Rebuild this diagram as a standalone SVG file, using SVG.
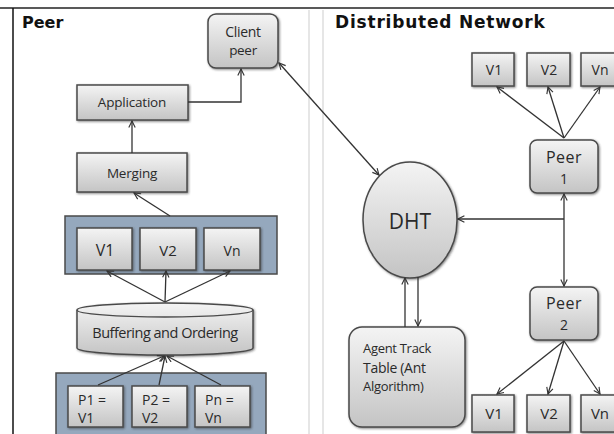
<svg xmlns="http://www.w3.org/2000/svg" width="614" height="434" viewBox="0 0 614 434">
<defs>
<linearGradient id="g" x1="0" y1="0" x2="0" y2="1">
<stop offset="0" stop-color="#f4f4f4"/>
<stop offset="1" stop-color="#c4c4c4"/>
</linearGradient>
<filter id="sh" x="-10%" y="-10%" width="130%" height="130%">
<feDropShadow dx="1" dy="1" stdDeviation="0.8" flood-color="#333" flood-opacity="0.6"/>
</filter>
<marker id="a" viewBox="0 0 10 10" refX="9" refY="5" markerWidth="8" markerHeight="8" orient="auto-start-reverse" markerUnits="userSpaceOnUse">
<path d="M1,1 L9,5 L1,9" fill="none" stroke="#333" stroke-width="1.4"/>
</marker>
</defs>
<style>
.box{fill:url(#g);stroke:#4a4a4a;stroke-width:1.5;filter:url(#sh)}
.panel{fill:#95a8bd;stroke:#4a4a4a;stroke-width:1.5}
.t{font-family:"Open Sans","Liberation Sans",sans-serif;fill:#2a2a2a;text-anchor:middle}
.s{font-family:"Open Sans","Liberation Sans",sans-serif;fill:#2a2a2a;text-anchor:start}
.title{font-family:"DejaVu Sans",sans-serif;font-weight:bold;fill:#111}
.c{fill:none;stroke:#333;stroke-width:1.3}
</style>
<rect width="614" height="434" fill="#fff"/>
<g id="frame">
<line x1="0" y1="8" x2="614" y2="8" stroke="#222" stroke-width="1.5"/>
<line x1="13" y1="8" x2="13" y2="434" stroke="#111" stroke-width="1.5"/>
<line x1="309" y1="10" x2="309" y2="434" stroke="#e6e6e6" stroke-width="2"/>
<line x1="323" y1="10" x2="323" y2="434" stroke="#e6e6e6" stroke-width="2"/>
<text class="title" x="22" y="28" font-size="16">Peer</text>
<text class="title" x="335" y="28" font-size="17" letter-spacing="0.8">Distributed Network</text>
</g>
<g id="client-peer"><rect class="box" x="208" y="14" width="70" height="54" rx="8"/><text class="t" x="243" y="37" font-size="14" letter-spacing="-0.3">Client</text><text class="t" x="243" y="55" font-size="13.5" letter-spacing="-0.3">peer</text></g>
<g id="application"><rect class="box" x="77" y="85" width="111" height="35"/><text class="t" x="132" y="107" font-size="13.5" letter-spacing="-0.2">Application</text></g>
<g id="merging"><rect class="box" x="77" y="153" width="110" height="39"/><text class="t" x="132" y="178" font-size="13.5" letter-spacing="-0.2">Merging</text></g>
<g id="v-panel"><rect class="panel" x="65" y="216" width="212" height="58"/></g>
<g id="v1"><rect class="box" x="77" y="228" width="55" height="42"/><text class="t" x="105" y="256" font-size="16">V1</text></g>
<g id="v2"><rect class="box" x="140" y="228" width="56" height="42"/><text class="t" x="168" y="256" font-size="15">V2</text></g>
<g id="vn"><rect class="box" x="204" y="228" width="56" height="42"/><text class="t" x="232" y="256" font-size="14">Vn</text></g>
<g id="buffering">
<path class="box" d="M77,310 A88,7 0 0 1 253,310 L253,348 A88,7 0 0 1 77,348 Z"/>
<path d="M77,310 A88,7 0 0 0 253,310" fill="none" stroke="#4a4a4a" stroke-width="1.3"/>
<text class="t" x="165" y="338" font-size="14.5" letter-spacing="-0.5">Buffering and Ordering</text>
</g>
<g id="p-panel"><rect class="panel" x="56" y="373" width="210" height="64"/></g>
<g id="p1"><rect class="box" x="68" y="386" width="55" height="41"/><text class="s" x="78" y="405" font-size="14">P1 =</text><text class="s" x="78" y="423" font-size="14">V1</text></g>
<g id="p2"><rect class="box" x="132" y="386" width="55" height="41"/><text class="s" x="142" y="405" font-size="14">P2 =</text><text class="s" x="142" y="423" font-size="14">V2</text></g>
<g id="pn"><rect class="box" x="195" y="386" width="55" height="41"/><text class="s" x="205" y="405" font-size="14">Pn =</text><text class="s" x="205" y="423" font-size="14">Vn</text></g>
<g id="dht"><ellipse class="box" cx="410" cy="220" rx="47" ry="58"/><text class="t" x="410" y="229" font-size="21">DHT</text></g>
<g id="agent"><rect class="box" x="349" y="327" width="116" height="100" rx="13"/><text class="s" x="363" y="353" font-size="13" letter-spacing="-0.3">Agent Track</text><text class="s" x="363" y="373" font-size="14" letter-spacing="-0.3">Table (Ant</text><text class="s" x="363" y="391" font-size="13" letter-spacing="-0.3">Algorithm)</text></g>
<g id="peer1"><rect class="box" x="530" y="140" width="68" height="53" rx="7"/><text class="t" x="564" y="163" font-size="16" letter-spacing="0.5">Peer</text><text class="t" x="564" y="184" font-size="14">1</text></g>
<g id="peer2"><rect class="box" x="530" y="287" width="68" height="53" rx="7"/><text class="t" x="564" y="309" font-size="16" letter-spacing="0.5">Peer</text><text class="t" x="564" y="330" font-size="14">2</text></g>
<g id="top-v1"><rect class="box" x="472" y="53" width="42" height="33"/><text class="t" x="494" y="75" font-size="14">V1</text></g>
<g id="top-v2"><rect class="box" x="527" y="53" width="43" height="33"/><text class="t" x="549" y="75" font-size="14">V2</text></g>
<g id="top-vn"><rect class="box" x="581" y="53" width="40" height="33"/><text class="t" x="600" y="75" font-size="14">Vn</text></g>
<g id="bot-v1"><rect class="box" x="472" y="395" width="42" height="37"/><text class="t" x="494" y="419" font-size="15">V1</text></g>
<g id="bot-v2"><rect class="box" x="527" y="395" width="43" height="37"/><text class="t" x="549" y="419" font-size="15">V2</text></g>
<g id="bot-vn"><rect class="box" x="581" y="395" width="40" height="37"/><text class="t" x="600" y="419" font-size="15">Vn</text></g>
<g id="connectors">
<polyline class="c" points="188,102 241,102 241,69" marker-end="url(#a)"/>
<line class="c" x1="132" y1="153" x2="132" y2="121" marker-end="url(#a)"/>
<line class="c" x1="170" y1="216" x2="134" y2="193" marker-end="url(#a)"/>
<line class="c" x1="165" y1="302" x2="107" y2="271" marker-end="url(#a)"/>
<line class="c" x1="165" y1="302" x2="166" y2="271" marker-end="url(#a)"/>
<line class="c" x1="165" y1="302" x2="230" y2="271" marker-end="url(#a)"/>
<line class="c" x1="98" y1="385" x2="164" y2="356" marker-end="url(#a)"/>
<line class="c" x1="159" y1="385" x2="165" y2="356" marker-end="url(#a)"/>
<line class="c" x1="221" y1="385" x2="167" y2="356" marker-end="url(#a)"/>
<line class="c" x1="279" y1="63" x2="379" y2="175" marker-start="url(#a)" marker-end="url(#a)"/>
<line class="c" x1="564" y1="138" x2="497" y2="87" marker-end="url(#a)"/>
<line class="c" x1="564" y1="138" x2="548" y2="87" marker-end="url(#a)"/>
<line class="c" x1="564" y1="138" x2="600" y2="87" marker-end="url(#a)"/>
<line class="c" x1="564" y1="194" x2="564" y2="286" marker-start="url(#a)" marker-end="url(#a)"/>
<line class="c" x1="564" y1="219" x2="458" y2="219" marker-end="url(#a)"/>
<line class="c" x1="405" y1="327" x2="405" y2="278" marker-end="url(#a)"/>
<line class="c" x1="418" y1="277" x2="418" y2="326" marker-end="url(#a)"/>
<line class="c" x1="564" y1="341" x2="497" y2="394" marker-end="url(#a)"/>
<line class="c" x1="564" y1="341" x2="548" y2="394" marker-end="url(#a)"/>
<line class="c" x1="564" y1="341" x2="600" y2="394" marker-end="url(#a)"/>
</g>
</svg>
